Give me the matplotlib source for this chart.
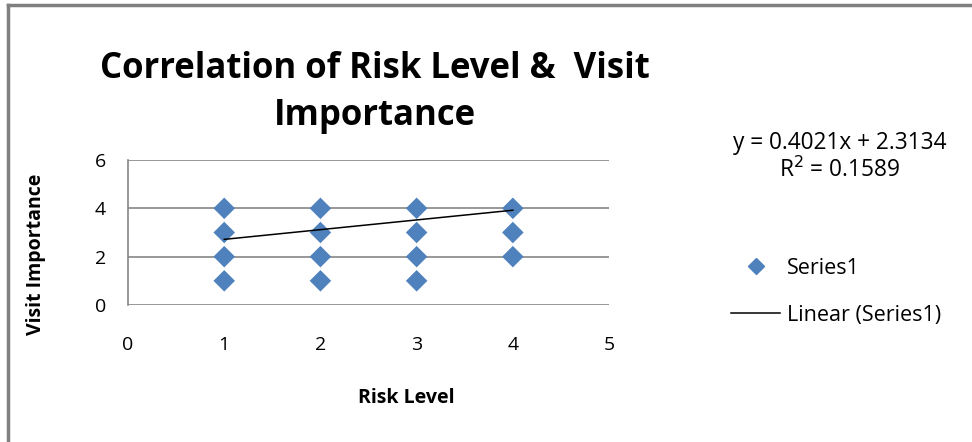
import numpy as np
import matplotlib
matplotlib.use("Agg")
import matplotlib.pyplot as plt
from matplotlib.lines import Line2D

plt.rcParams['font.family'] = ['Open Sans', 'DejaVu Sans']

# Survey responses: risk level vs. visit importance
risk_level = [1, 1, 1, 1, 2, 2, 2, 2, 3, 3, 3, 3, 4, 4, 4]
visit_importance = [1, 2, 3, 4, 1, 2, 3, 4, 1, 2, 3, 4, 2, 3, 4]

# Trendline as reported by the fit
slope = 0.4021
intercept = 2.3134
r_squared = 0.1589

x_ticks = [0, 1, 2, 3, 4, 5]
y_ticks = [0, 2, 4, 6]

blue = '#4F81BD'
grid_gray = '#868686'

fig = plt.figure(figsize=(9.72, 4.42), dpi=100)
ax = fig.add_axes([0.1317, 0.310, 0.4949, 0.328])

for yt in y_ticks:
    ax.axhline(yt, color=grid_gray, lw=1.2, zorder=1)

ax.scatter(risk_level, visit_importance, marker='D', s=120, color=blue,
           edgecolors='none', zorder=3, label='Series1')

x_fit = np.array([min(risk_level), max(risk_level)])
ax.plot(x_fit, slope * x_fit + intercept, color='black', lw=1.1, zorder=4,
        label='Linear (Series1)')

ax.set_xlim(0, 5)
ax.set_ylim(0, 6)
ax.set_xticks(x_ticks)
ax.set_yticks(y_ticks)
ax.tick_params(length=0, labelsize=14, pad=22)
ax.tick_params(axis='y', pad=16)
for side in ['top', 'right', 'bottom']:
    ax.spines[side].set_visible(False)
ax.spines['left'].set_color(grid_gray)
ax.spines['left'].set_linewidth(1.2)

ax.set_xlabel('Risk Level', fontsize=14, fontweight='bold')
ax.xaxis.set_label_coords(0.578, -0.57)
ax.set_ylabel('Visit Importance', fontsize=14, fontweight='bold')
ax.yaxis.set_label_coords(-0.17, 0.35)

fig.text(0.386, 0.79, 'Correlation of Risk Level &  Visit\nImportance',
         ha='center', va='center', fontsize=25, fontweight='bold',
         linespacing=1.42)

fig.text(0.864, 0.677, 'y = 0.4021x + 2.3134', ha='center', va='center',
         fontsize=16.3)
fig.text(0.864, 0.615, 'R$^2$ = %.4f' % r_squared, ha='center', va='center',
         fontsize=16.3)

handles = [
    Line2D([], [], marker='D', color=blue, linestyle='none', markersize=8),
    Line2D([], [], color='black', lw=1.1),
]
fig.legend(handles, ['Series1', 'Linear (Series1)'], loc='center left',
           bbox_to_anchor=(0.732, 0.34), frameon=False, fontsize=15.5,
           handlelength=2.3, labelspacing=1.2, handletextpad=0.3)

# Outer frame, only its left and top edges fall inside the image
fig.add_artist(Line2D([0.008, 0.008], [0, 0.989], color='#808080', lw=2.5,
                      transform=fig.transFigure))
fig.add_artist(Line2D([0.008, 1.0], [0.989, 0.989], color='#808080', lw=2.5,
                      transform=fig.transFigure))

fig.savefig('out.png', dpi=100, facecolor='white')
